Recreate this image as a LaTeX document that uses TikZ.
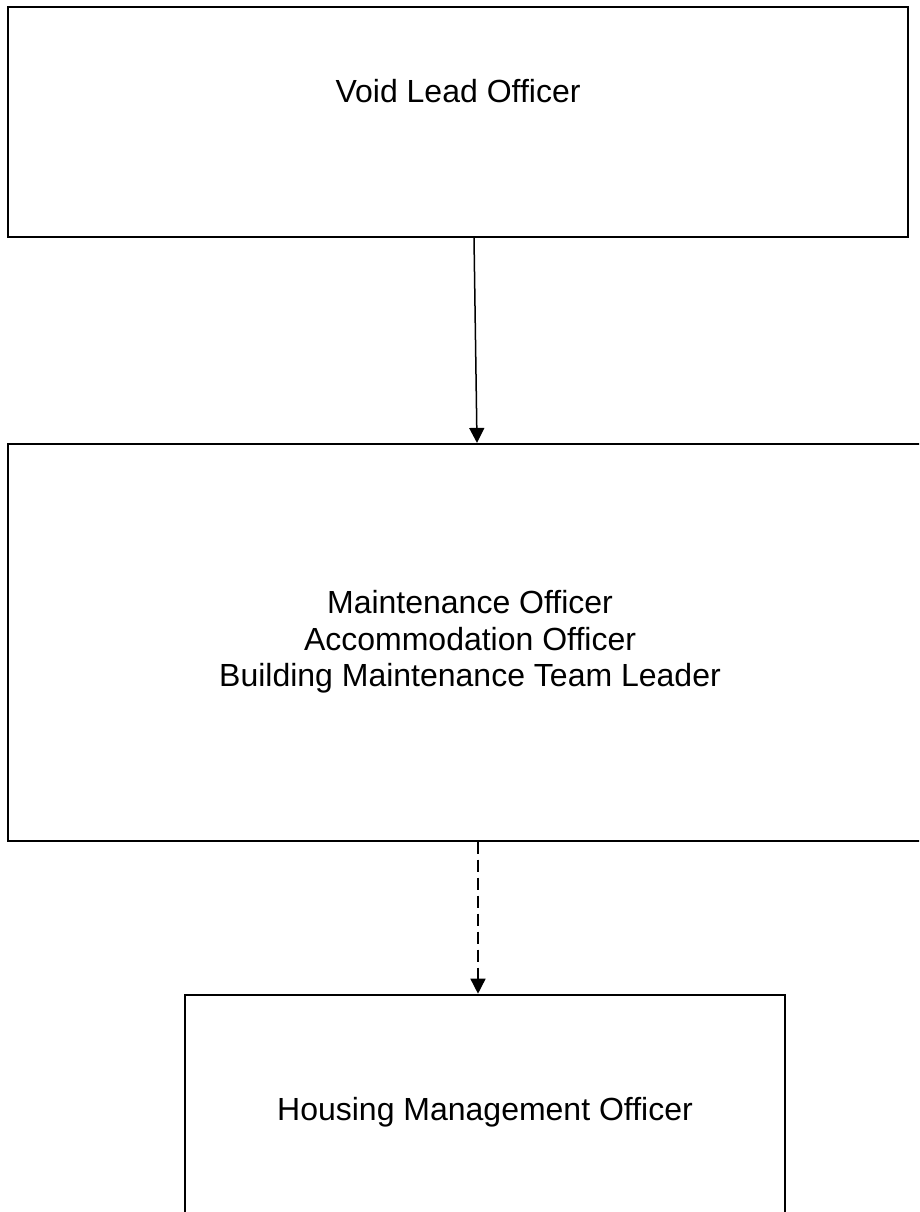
\documentclass[tikz,border=0pt]{standalone}
\usepackage{fontspec}
\setmainfont{Liberation Sans}
\usetikzlibrary{positioning, arrows.meta}

\begin{document}
\begin{tikzpicture}[
    x=1pt, y=-1pt,
    block/.style={rectangle, draw=black, line width=1.8pt, fill=white},
    txt/.style={font=\fontsize{32}{36.5}\selectfont, align=center, inner sep=0pt},
    arrow/.style={line width=1.5pt, -{Triangle[length=15pt, width=15pt]}}
]
    \useasboundingbox (0,0) rectangle (919,1212);
    \clip (0,0) rectangle (919,1212);
    \node [block, minimum width=900pt, minimum height=230pt] (void) at (458,122) {};
    \node [block, minimum width=924pt, minimum height=397pt,
           below=205pt of void, xshift=12pt] (maint) {};
    \node [block, minimum width=600pt, minimum height=230pt,
           below=152pt of maint, xshift=15pt] (housing) {};
    % texts
    \node [txt, anchor=base] (voidtxt) at ([yshift=19pt]void.center) {Void Lead Officer};
    \node [txt, anchor=base] (mainttxt) at ([yshift=-44.5pt]maint.center)
          {Maintenance Officer\\Accommodation Officer\\Building Maintenance Team Leader};
    \node [txt, anchor=base] (housingtxt) at ([yshift=-11pt]housing.center) {Housing Management Officer};
    % connectors
    \draw [arrow] ([xshift=16pt]void.south) -- ([xshift=7pt]maint.north);
    \draw [arrow, dash pattern=on 12pt off 6pt] ([xshift=8pt]maint.south) -- ([xshift=-7pt]housing.north);
\end{tikzpicture}
\end{document}
